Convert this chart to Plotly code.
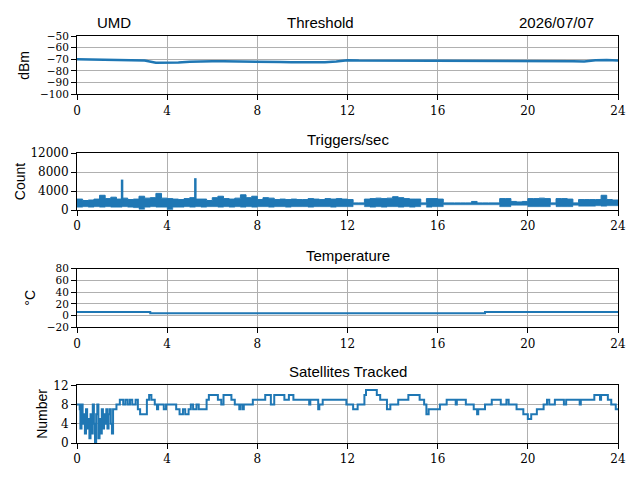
import plotly.graph_objects as go

# ---------------- data ----------------
hours_ticks = [0, 4, 8, 12, 16, 20, 24]

# Threshold (dBm), sampled every 0.5 h
thr_t = [i * 0.5 for i in range(49)]
thr_v = [-70.0, -70.2, -70.5, -70.6, -70.7, -70.8, -71.0, -73.0, -73.2, -72.8,
         -72.0, -71.5, -71.6, -71.7, -71.8, -71.5, -71.8, -71.8, -72.4, -72.6,
         -72.6, -72.6, -72.5, -71.8, -70.8, -71.1, -71.1, -71.1, -71.2, -71.0,
         -71.1, -71.2, -71.3, -71.1, -71.2, -71.3, -71.3, -71.3, -71.4, -71.4,
         -71.3, -71.3, -71.3, -71.5, -71.6, -71.8, -70.8, -70.5, -71.0]

# Triggers/sec: per-bin envelope (low / high), bins every 0.25 h
trig_t = [i * 0.25 for i in range(97)]
trig_hi = [2300, 2000, 2100, 2300, 3100, 2400, 2700, 2300,
           2500, 2200, 2300, 2900, 2500, 2600, 3500, 2500,
           2400, 2300, 2200, 2400, 2600, 2300, 2300, 2000,
           2600, 2900, 2400, 2300, 2500, 3200, 2600, 2900,
           2200, 2600, 2500, 2200, 2300, 2200, 2300, 2200,
           2200, 2400, 2300, 2200, 2400, 2300, 2400, 2300,
           2200, 1500, 1500, 2300, 2400, 2500, 2400, 2500,
           2800, 2600, 2400, 2300, 2300, 1500, 2400, 2400,
           2300, 1500, 1500, 1500, 1500, 1500, 1800, 1500,
           1500, 1500, 1500, 2400, 2400, 1800, 1700, 1800,
           2400, 2400, 2500, 2400, 1500, 2400, 2400, 2300,
           1500, 2200, 2200, 2200, 2200, 3100, 2200, 2100, 1800]
trig_lo = [600, 700, 600, 700, 600, 700, 600, 600,
           700, 600, 500, 150, 600, 700, 600, 600,
           100, 600, 600, 700, 600, 700, 600, 700,
           700, 600, 700, 600, 700, 600, 700, 600,
           700, 700, 600, 700, 700, 600, 700, 700,
           700, 600, 700, 700, 700, 600, 700, 700,
           700, 1100, 1100, 700, 600, 700, 600, 700,
           700, 600, 700, 600, 700, 1100, 600, 700,
           700, 1100, 1100, 1100, 1100, 1100, 1100, 1100,
           1100, 1100, 1100, 700, 700, 1000, 1000, 1000,
           700, 700, 700, 700, 1100, 700, 700, 700,
           1000, 800, 800, 800, 900, 800, 900, 900, 900]
spike_t = [2.0, 5.25]
spike_v = [6400, 6700]

# Temperature (deg C)
temp_t = [0.0, 3.25, 18.1, 24.0]
temp_v = [6.0, 4.0, 6.0, 6.0]

# Satellites tracked (step changes)
sat_t = [0.0, 0.12, 0.15, 0.2, 0.25, 0.3, 0.35, 0.4, 0.45, 0.5, 0.55, 0.6, 0.65,
         0.7, 0.75, 0.8, 0.85, 0.9, 0.95, 1.0, 1.05, 1.1, 1.15, 1.2, 1.25, 1.3,
         1.35, 1.4, 1.45, 1.5, 1.55, 1.6, 1.75, 1.9, 2.05, 2.15, 2.25, 2.35,
         2.45, 2.6, 2.7, 2.8, 3.1, 3.2, 3.3, 3.45, 3.55, 3.6, 3.85, 3.95, 4.4,
         4.55, 4.7, 4.8, 4.95, 5.05, 5.15, 5.3, 5.4, 5.75, 5.85, 6.25, 6.4, 6.5,
         6.85, 7.0, 7.2, 7.25, 7.35, 7.4, 7.5, 7.8, 8.35, 8.6, 8.75, 9.2, 9.4,
         9.6, 10.3, 10.35, 10.7, 10.75, 10.9, 11.1, 11.95, 12.25, 12.45, 12.75,
         12.82, 13.3, 13.45, 13.75, 13.9, 14.25, 14.7, 15.2, 15.4, 15.5, 15.6,
         16.1, 16.4, 16.8, 16.85, 17.25, 17.6, 17.75, 17.8, 18.1, 18.4, 18.8,
         19.05, 19.15, 19.5, 19.8, 20.0, 20.15, 20.4, 20.7, 20.85, 20.95, 21.2,
         21.6, 21.7, 21.8, 22.3, 22.35, 22.95, 23.2, 23.25, 23.55, 23.7, 23.9, 24.0]
sat_v = [8, 7, 3, 8, 4, 6, 2, 7, 3, 5, 1, 6, 2,
         8, 4, 0, 6, 8, 1, 5, 2, 7, 3, 6, 4, 7,
         3, 6, 7, 4, 2, 7, 8, 9, 8, 9, 8, 9,
         8, 9, 7, 6, 9, 10, 9, 8, 7, 8, 7, 8, 7,
         6, 7, 6, 7, 8, 7, 8, 7, 9, 10, 9, 8, 10,
         9, 8, 7, 8, 7, 8, 8, 9, 10, 8, 10, 9, 10,
         9, 8, 9, 7, 8, 9, 9, 8, 7, 8, 10,
         11, 10, 9, 7, 8, 9, 10, 9, 8, 6, 7,
         8, 9, 8, 9, 8, 7, 6, 7, 8, 9, 8,
         9, 8, 7, 6, 5, 6, 7, 8, 9, 8, 9,
         8, 9, 9, 8, 9, 10, 9, 10, 9, 8, 7, 7]

# ---------------- figure ----------------
BLUE = "#1f77b4"
GRID = "#b0b0b0"
SERIF = "DejaVu Serif"
SANS = "Liberation Sans"

fig = go.Figure()

fig.add_trace(go.Scatter(x=thr_t, y=thr_v, mode="lines", line=dict(color=BLUE, width=2.5),
                         xaxis="x", yaxis="y", showlegend=False))
fig.add_trace(go.Scatter(x=trig_t, y=trig_lo, mode="lines", line=dict(color=BLUE, width=0.5, shape="hv"),
                         xaxis="x2", yaxis="y2", showlegend=False))
fig.add_trace(go.Scatter(x=trig_t, y=trig_hi, mode="lines", line=dict(color=BLUE, width=1, shape="hv"),
                         fill="tonexty", fillcolor=BLUE, xaxis="x2", yaxis="y2", showlegend=False))
sx, sy = [], []
for t, v in zip(spike_t, spike_v):
    sx += [t, t, None]
    sy += [1500, v, None]
fig.add_trace(go.Scatter(x=sx, y=sy, mode="lines", line=dict(color=BLUE, width=2.5),
                         xaxis="x2", yaxis="y2", showlegend=False))
fig.add_trace(go.Scatter(x=temp_t, y=temp_v, mode="lines", line=dict(color=BLUE, width=2, shape="hv"),
                         xaxis="x3", yaxis="y3", showlegend=False))
fig.add_trace(go.Scatter(x=sat_t, y=sat_v, mode="lines", line=dict(color=BLUE, width=2, shape="hv"),
                         xaxis="x4", yaxis="y4", showlegend=False))

OFF = 8  # page offset of the figure inside the browser window
FW, FH = 640, 480
L = 77.3 - OFF
T = 36 - OFF
R = FW - (617.7 - OFF)
B = FH - (443 - OFF)
W, H = FW - L - R, FH - T - B


def py(p):
    return (FH - B - (p - OFF)) / H


def px(p):
    return (p - OFF - L) / W


domains = [(py(94.3), 1.0), (py(210), py(153)), (py(327.3), py(268.7)), (0.0, py(385.3))]
yranges = [[-100, -50], [0, 12000], [-20, 80], [0, 12]]
yticks = [[-100, -90, -80, -70, -60, -50], [0, 4000, 8000, 12000], [-20, 0, 20, 40, 60, 80], [0, 4, 8, 12]]
ysizes = [10.5, 12, 10.5, 12]

axis_common = dict(showline=True, linecolor="black", linewidth=1, mirror=True,
                   ticks="outside", ticklen=5, tickwidth=1, tickcolor="black",
                   showgrid=True, gridcolor=GRID, gridwidth=1, zeroline=False)

layout = dict(width=FW, height=FH, margin=dict(l=L, r=R, t=T, b=B, autoexpand=False),
              paper_bgcolor="white", plot_bgcolor="white", showlegend=False)
for i in range(4):
    s = "" if i == 0 else str(i + 1)
    layout["xaxis" + s] = dict(domain=[0, 1], range=[0, 24], tickvals=hours_ticks,
                               ticktext=[str(v) for v in hours_ticks], anchor="y" + s,
                               tickfont=dict(family=SERIF, size=12, color="black"), **axis_common)
    layout["yaxis" + s] = dict(domain=list(domains[i]), range=yranges[i], tickvals=yticks[i],
                               ticktext=[str(v).replace("-", "\u2212") for v in yticks[i]],
                               anchor="x" + s,
                               tickfont=dict(family=SERIF, size=ysizes[i], color="black"), **axis_common)
fig.update_layout(**layout)

ann = []
TF = dict(family=SANS, size=15, color="black")
for txt, xc in [("UMD", 114), ("Threshold", 321), ("2026/07/07", 556)]:
    ann.append(dict(text=txt, x=px(xc), y=1.0, xref="paper", yref="paper",
                    xanchor="center", yanchor="bottom", yshift=3, showarrow=False, font=TF))
for txt, d in [("Triggers/sec", domains[1]), ("Temperature", domains[2]), ("Satellites Tracked", domains[3])]:
    ann.append(dict(text=txt, x=0.5, y=d[1], xref="paper", yref="paper",
                    xanchor="center", yanchor="bottom", yshift=3, showarrow=False, font=TF))
for txt, xc, d in [("dBm", 25, domains[0]), ("Count", 20, domains[1]),
                   ("°C", 30, domains[2]), ("Number", 42, domains[3])]:
    ann.append(dict(text=txt, x=px(xc), y=(d[0] + d[1]) / 2, xref="paper", yref="paper",
                    xanchor="center", yanchor="middle", textangle=-90, showarrow=False,
                    font=dict(family=SANS, size=14, color="black")))
fig.update_layout(annotations=ann)

fig.write_html("out.html")
